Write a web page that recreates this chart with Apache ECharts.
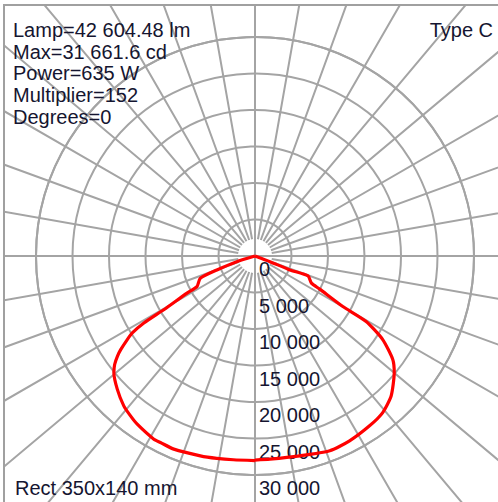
<!DOCTYPE html>
<html>
<head>
<meta charset="utf-8">
<script src="https://cdn.jsdelivr.net/npm/echarts@6/dist/echarts.min.js"></script>
<style>
html,body{margin:0;padding:0;background:#fff;}
#chart{width:498px;height:502px;}
</style>
</head>
<body>
<div id="chart"></div>
<script>
// ---- data ----
const infoLines = ['Lamp=42 604.48 lm', 'Max=31 661.6 cd', 'Power=635 W', 'Multiplier=152', 'Degrees=0'];
const typeLabel = 'Type C';
const footLabel = 'Rect 350x140 mm';
const radiusTicks = [0, 5000, 10000, 15000, 20000, 25000, 30000];

// C0 plane (right half): gamma from nadir (deg), intensity (cd)
const gammaRight = [90, 69.2, 68.2, 69.4, 64.3, 62.9, 60.1, 59.5, 56.8, 53.1, 50.0, 44.2, 39.2, 34.0, 27.1, 21.0, 12.6, 4.2, 0];
const intensityRight = [0, 2190, 5140, 7760, 8580, 9960, 13880, 17670, 20910, 23600, 24900, 26750, 27680, 28060, 28440, 28580, 28050, 27900, 27950];

// C180 plane (left half)
const gammaLeft = [90, 72.7, 69.9, 67.9, 62.2, 61.4, 59.5, 58.9, 57.9, 56.8, 55.1, 53.9, 52.3, 50.4, 45.9, 41.2, 37.9, 35.0, 28.9, 26.9, 22.8, 15.3, 10.7, 6.05, 0];
const intensityLeft = [0, 2615, 5560, 8090, 8985, 10610, 14510, 17780, 19840, 20910, 22430, 23330, 24300, 25090, 26260, 27290, 27760, 28130, 28670, 28640, 28700, 28380, 28210, 28070, 28020];

// ---- chart ----
const CX = 255, CY = 256;
const gridColor = '#a4a4a4';
const gridWidth = 2;
const font = "'Liberation Sans', Arial, sans-serif";
const textColor = '#151530';
const fmt = v => String(v).replace(/\B(?=(\d{3})+(?!\d))/g, ' ');

const rightData = gammaRight.map((g, i) => [intensityRight[i], 360 - g]);
const leftData = gammaLeft.map((g, i) => [intensityLeft[i], g]);

const chart = echarts.init(document.getElementById('chart'), null, {renderer: 'svg'});
const hidden = {show: false};
chart.setOption({
  animation: false,
  backgroundColor: '#fff',
  title: [
    {text: infoLines.join('\n'), left: 13, top: 19, padding: 0,
     textStyle: {fontSize: 20, fontWeight: 'normal', color: textColor, fontFamily: font, lineHeight: 21.7}},
    {text: typeLabel, right: 5, top: 19, padding: 0,
     textStyle: {fontSize: 20, fontWeight: 'normal', color: textColor, fontFamily: font, lineHeight: 22}},
    {text: footLabel, left: 15, top: 477, padding: 0,
     textStyle: {fontSize: 20, fontWeight: 'normal', color: textColor, fontFamily: font, lineHeight: 22}}
  ],
  polar: [
    {center: [CX, CY], radius: [17, 400]},
    {center: [CX, CY], radius: [0, 400]},
    {center: [CX, CY], radius: [0, 219]}
  ],
  angleAxis: [
    {polarIndex: 0, type: 'value', min: 0, max: 360, interval: 10, startAngle: 90,
     axisLine: hidden, axisTick: hidden, axisLabel: hidden,
     splitLine: {show: true, lineStyle: {color: gridColor, width: gridWidth}}},
    {polarIndex: 1, type: 'value', min: 0, max: 360, interval: 90, startAngle: 90,
     axisLine: hidden, axisTick: hidden, axisLabel: hidden,
     splitLine: {show: true, lineStyle: {color: gridColor, width: gridWidth}}},
    {polarIndex: 2, type: 'value', min: 0, max: 360, interval: 90, startAngle: -90, clockwise: true,
     axisLine: {show: true, lineStyle: {color: gridColor, width: gridWidth}}, axisTick: hidden, axisLabel: hidden,
     splitLine: hidden}
  ],
  radiusAxis: [
    {polarIndex: 0, type: 'value', min: 0, max: 1, show: false, splitLine: hidden},
    {polarIndex: 1, type: 'value', min: 0, max: 1, show: false, splitLine: hidden},
    {polarIndex: 2, type: 'value', min: radiusTicks[0], max: radiusTicks[radiusTicks.length - 1], interval: 5000,
     axisLine: hidden, axisTick: hidden,
     axisLabel: {show: true, formatter: fmt, fontSize: 20, color: textColor, fontFamily: font,
                 align: 'left', verticalAlign: 'top', margin: 4, padding: [3, 0, 0, 0]},
     splitLine: {show: true, lineStyle: {color: gridColor, width: gridWidth}}}
  ],
  series: [
    {type: 'line', coordinateSystem: 'polar', polarIndex: 2, data: rightData, showSymbol: false, smooth: 0.2,
     lineStyle: {color: '#ff0000', width: 3.2}, z: 10},
    {type: 'line', coordinateSystem: 'polar', polarIndex: 2, data: leftData, showSymbol: false, smooth: 0.2,
     lineStyle: {color: '#ff0000', width: 3.2}, z: 10}
  ],
  graphic: [
    {type: 'rect', z: 100, shape: {x: 0, y: 0, width: 4, height: 502}, style: {fill: '#fff'}, silent: true},
    {type: 'rect', z: 100, shape: {x: 0, y: 0, width: 498, height: 5}, style: {fill: '#fff'}, silent: true},
    {type: 'rect', z: 101, shape: {x: 4, y: 5, width: 500, height: 500}, style: {fill: 'none', stroke: '#a0a0a0', lineWidth: 2}, silent: true}
  ]
});
</script>
</body>
</html>
